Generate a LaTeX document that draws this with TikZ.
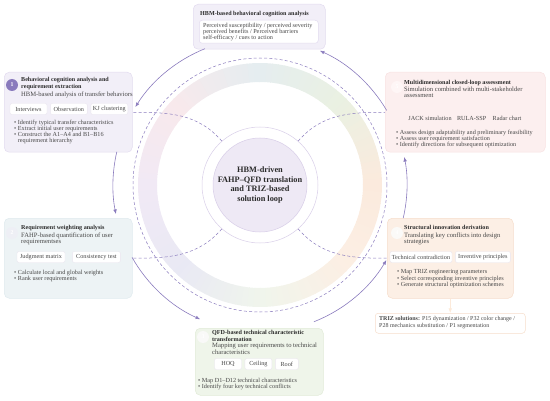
\documentclass[tikz,border=0pt]{standalone}
\usepackage{fontspec}
\setmainfont{Liberation Serif}
\usepackage{tikz}
\usetikzlibrary{arrows.meta,positioning,calc}
\tikzset{>={Latex[width=3.6pt,length=4.6pt]}}

\definecolor{loop}{HTML}{8A7BBD}
\definecolor{headtext}{HTML}{2B2B2B}
\definecolor{bodytext}{HTML}{474747}
\definecolor{chipline}{HTML}{EAE6EF}
\definecolor{lilac}{HTML}{F2EFF8}
\definecolor{lilacline}{HTML}{E2DBEF}
\definecolor{whiteline}{HTML}{E2DBEF}
\definecolor{rose}{HTML}{FCEFEF}
\definecolor{roseline}{HTML}{F8E2E2}
\definecolor{mist}{HTML}{EDF3F5}
\definecolor{mistline}{HTML}{DFEAEE}
\definecolor{peach}{HTML}{FCEFE5}
\definecolor{peachline}{HTML}{F6DDCB}
\definecolor{sage}{HTML}{EFF5EA}
\definecolor{sageline}{HTML}{E1EBD8}
\definecolor{hubfill}{HTML}{EEE9F5}
\definecolor{hubline}{HTML}{D8CEE8}
% pale colours of the ring
\definecolor{ringE}{HTML}{FBEADD}
\definecolor{ringNE}{HTML}{EAF1E2}
\definecolor{ringN}{HTML}{E5EDF0}
\definecolor{ringNW}{HTML}{F8E9EC}
\definecolor{ringW}{HTML}{F1E9F5}
\definecolor{ringSW}{HTML}{E9E9F4}
\definecolor{ringS}{HTML}{F0F5EC}
\definecolor{ringSE}{HTML}{FCEFE4}

\tikzset{
  panel/.style={draw=#1line, fill=#1, rounded corners=5pt, line width=0.5pt,
    anchor=north west, inner sep=0pt},
  badge/.style={circle, fill=#1, text=white, inner sep=0pt, minimum size=12pt,
    font=\fontsize{5.8}{5.8}\selectfont\bfseries},
  heading/.style={anchor=north west, align=left, inner sep=0pt, text=headtext,
    font=\fontsize{6.1}{7}\selectfont\bfseries},
  sub/.style={anchor=north west, align=left, inner sep=0pt, text=bodytext,
    font=\fontsize{6.6}{6.4}\selectfont},
  chip/.style={fill=white, draw=chipline, rounded corners=2pt, inner sep=1.5pt,
    minimum height=11pt, text=bodytext, font=\fontsize{6.2}{6.4}\selectfont},
  bullets/.style={anchor=north west, align=left, inner sep=0pt, text=bodytext,
    font=\fontsize{6.2}{6.2}\selectfont},
  flow/.style={->, draw=loop, line width=0.6pt},
  link/.style={draw=loop, line width=0.5pt, dash pattern=on 3pt off 2.2pt},
}
\newcommand\bul{\textbullet\ }

\begin{document}
\begin{tikzpicture}[x=1pt,y=1pt]
\newcommand\Rloop{147}
\newcommand\Rdash{127}
\useasboundingbox (0,0) rectangle (550,400);
\coordinate (C) at (260,215);

% ring
\begin{scope}[shift={(C)}]
\foreach \ca/\cb [count=\s from 0] in {ringE/ringNE,ringNE/ringN,ringN/ringNW,ringNW/ringW,ringW/ringSW,ringSW/ringS,ringS/ringSE,ringSE/ringE}{
  \foreach \t in {0,...,14}{
    \pgfmathtruncatemacro\pct{100-\t*100/15}
    \pgfmathsetmacro\aa{\s*45+\t*3}
    \pgfmathsetmacro\ab{\aa+3.4}
    \fill[\ca!\pct!\cb] (\aa:103) arc[start angle=\aa, end angle=\ab, radius=103pt]
      -- (\ab:122) arc[start angle=\ab, end angle=\aa, radius=122pt] -- cycle;
  }
}
\end{scope}
\draw[link] (C) circle[radius=\Rdash pt];

% hub
\node[circle, fill=white, draw=hubline, line width=0.5pt, minimum size=116pt, inner sep=0pt] (hub) at (C) {};
\node[circle, fill=hubfill, draw=hubline, line width=0.5pt, minimum size=94pt, inner sep=0pt,
  align=center, text=headtext, font=\fontsize{8.3}{9.4}\selectfont\bfseries] (core) at (C)
  {HBM-driven\\FAHP--QFD translation\\and TRIZ-based\\solution loop};

% HBM
\node[panel=lilac, minimum width=132pt, minimum height=45pt] (b0) at (193,396) {};
\node[heading] (h0) at (200,388.5) {HBM-based behavioral cognition analysis};
\node[panel=white, rounded corners=3pt, minimum width=119pt, minimum height=23pt] (w0) at (199,380) {};
\node[sub, font=\fontsize{6.2}{6}\selectfont] (s0) at (203,377.5)
  {Perceived susceptibility / perceived severity\\perceived benefits / Perceived barriers\\self-efficacy / cues to action};

% step 1
\node[panel=lilac, minimum width=128pt, minimum height=80pt] (b1) at (4,328) {};
\node[badge=loop] (n1) at (12,315) {1};
\node[heading] (h1) at (21,323) {Behavioral cognition analysis and\\requirement extraction};
\node[sub] (s1) at (21,308) {HBM-based analysis of transfer behaviors};
\node[chip, minimum width=37pt] (c11) at (28.5,291) {Interviews};
\node[chip, minimum width=37pt, right=3pt of c11] (c12) {Observation};
\node[chip, minimum width=37pt, right=3pt of c12] (c13) {KJ clustering};
\node[bullets] (l1) at (14,280.5) {\bul Identify typical transfer characteristics\\
  \bul Extract initial user requirements\\\bul Construct the A1--A4 and B1--B16\\
  \phantom{\bul}requirement hierarchy};

% step 2
\node[panel=mist, minimum width=128pt, minimum height=80pt] (b2) at (4,182) {};
\node[badge=mistline!70!loop!30] (n2) at (12,167) {2};
\node[heading] (h2) at (21,174.5) {Requirement weighting analysis};
\node[sub] (s2) at (21,167.5) {FAHP-based quantification of user\\requirementses};
\node[chip, minimum width=48pt] (c21) at (41,143) {Judgment matrix};
\node[chip, minimum width=48pt, right=7pt of c21] (c22) {Consistency test};
\node[bullets] (l2) at (14,130.5) {\bul Calculate local and global weights\\\bul Rank user requirements};

% step 3
\node[panel=sage, minimum width=128pt, minimum height=67pt] (b3) at (195,72) {};
\node[badge=sageline!85!black!10] (n3) at (203,63) {3};
\node[heading] (h3) at (212,69.5) {QFD-based technical characteristic\\transformation};
\node[sub] (s3) at (212,57) {Mapping user requirements to technical\\characteristics};
\node[chip, minimum width=27pt] (c31) at (228,36) {HOQ};
\node[chip, minimum width=27pt, right=3pt of c31] (c32) {Ceiling};
\node[chip, minimum width=23pt, right=3pt of c32] (c33) {Roof};
\node[bullets] (l3) at (198,22.5) {\bul Map D1--D12 technical characteristics\\\bul Identify four key technical conflicts};

% step 4
\node[panel=peach, minimum width=126pt, minimum height=80pt] (b4) at (387,182) {};
\node[badge=peachline!85!black!8] (n4) at (397,167) {4};
\node[heading] (h4) at (404,174.5) {Structural innovation derivation};
\node[sub] (s4) at (404,167.5) {Translating key conflicts into design\\strategies};
\node[chip, minimum width=62pt] (c41) at (421,143) {Technical contradiction};
\node[chip, minimum width=55pt, right=3pt of c41] (c42) {Inventive principles};
\node[bullets] (l4) at (397,130.5) {\bul Map TRIZ engineering parameters\\
  \bul Select corresponding inventive principles\\\bul Generate structural optimization schemes};

\node[panel=white, draw=peachline, rounded corners=3pt, minimum width=150pt, minimum height=20pt] (bt) at (375,87) {};
\node[bullets, font=\fontsize{6}{6.6}\selectfont] (lt) at (379,83.5) {\textbf{TRIZ solutions:} P15 dynamization / P32 color change /\\
  P28 mechanics substitution / P1 segmentation};
\draw[->, draw=peachline!80!orange!40, line width=0.6pt] (b4.south) -- (bt.north);

% step 5
\node[panel=rose, minimum width=160pt, minimum height=80pt] (b5) at (385,328) {};
\node[badge=roseline!80!red!12] (n5) at (397,313) {5};
\node[heading] (h5) at (404,319.5) {Multidimensional closed-loop assessment};
\node[sub] (s5) at (404,313.5) {Simulation combined with multi-stakeholder\\assessment};
\node[chip, draw=none, fill=rose, minimum width=44pt] (c51) at (430,282) {JACK simulation};
\node[chip, draw=none, fill=rose, right=2pt of c51] (c52) {RULA-SSP};
\node[chip, draw=none, fill=rose, right=3pt of c52] (c53) {Radar chart};
\node[bullets] (l5) at (396,270.5) {\bul Assess design adaptability and preliminary feasibility\\
  \bul Assess user requirement satisfaction\\\bul Identify directions for subsequent optimization};

% loop arcs
\coordinate (t01) at ($(C)+(112:\Rloop)$);
\coordinate (t12) at ($(C)+(167:\Rloop)$);
\coordinate (t23) at ($(C)+(209.5:\Rloop)$);
\coordinate (t34) at ($(C)+(291.5:\Rloop)$);
\coordinate (t45) at ($(C)+(-13:\Rloop)$);
\coordinate (t50) at ($(C)+(30.5:\Rloop)$);
\draw[flow] (t01) arc[start angle=112, end angle=148, radius=\Rloop pt];
\draw[flow] (t12) arc[start angle=167, end angle=191.4, radius=\Rloop pt];
\draw[flow] (t23) arc[start angle=209.5, end angle=246, radius=\Rloop pt];
\draw[flow] (t34) arc[start angle=291.5, end angle=329.3, radius=\Rloop pt];
\draw[flow] (t45) arc[start angle=-13, end angle=11, radius=\Rloop pt];
\draw[flow] (t50) arc[start angle=30.5, end angle=66, radius=\Rloop pt];

% hub links
\draw[link] (hub.131) to[out=131, in=0] (b1.east);
\draw[link] (hub.49) to[out=49, in=180] (b5.west);
\draw[link] (hub.229) to[out=229, in=0] (b2.east);
\draw[link] (hub.311) to[out=311, in=180] (b4.west);

\end{tikzpicture}
\end{document}
